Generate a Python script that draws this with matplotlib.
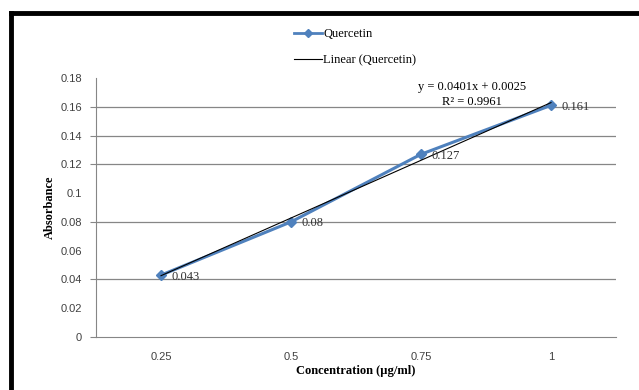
import matplotlib.pyplot as plt
from matplotlib.lines import Line2D
import numpy as np

categories = ["0.25", "0.5", "0.75", "1"]
absorbance = [0.043, 0.08, 0.127, 0.161]
value_labels = ["0.043", "0.08", "0.127", "0.161"]
slope, intercept = 0.0401, 0.0025
yticks = [0, 0.02, 0.04, 0.06, 0.08, 0.1, 0.12, 0.14, 0.16, 0.18]
ytick_labels = ["0", "0.02", "0.04", "0.06", "0.08", "0.1", "0.12", "0.14", "0.16", "0.18"]
grid_at = [0.04, 0.08, 0.12, 0.14, 0.16]

serif = "Liberation Serif"
sans = "Liberation Sans"
blue = "#4F81BD"

fig = plt.figure(figsize=(6.39, 3.9), dpi=100)
ax = fig.add_axes([96 / 639, 1 - 337 / 390, 520 / 639, 259 / 390])

x = np.arange(len(categories))
# trend line uses Excel's 1-based category index
trend = slope * (x + 1) + intercept
ax.plot(x, trend, color="black", lw=0.8, zorder=3)
ax.plot(x, absorbance, color=blue, lw=2.2, marker="D", ms=5.5, zorder=2)

for xi, yi, lab in zip(x, absorbance, value_labels):
    ax.annotate(lab, (xi, yi), xytext=(7.5, -1), textcoords="offset points",
                fontsize=9, family=serif, color="#333333", va="center")

ax.set_xlim(-0.5, len(categories) - 0.5)
ax.set_ylim(0, 0.18)
ax.set_xticks(x)
ax.set_xticklabels(categories, family=sans, fontsize=8, color="#404040")
ax.set_yticks(yticks)
ax.set_yticklabels(ytick_labels, family=sans, fontsize=8, color="#404040")
ax.tick_params(axis="x", length=0, pad=11)
ax.tick_params(axis="y", length=4, color="#868686", pad=6)
# only the gridded values (and 0) show a tick mark in the source
for val, tk in zip(yticks, ax.yaxis.get_major_ticks()):
    if val not in grid_at and val != 0:
        tk.tick1line.set_visible(False)

for g in grid_at:
    ax.axhline(g, color="#868686", lw=0.9, zorder=1)

for s in ["top", "right"]:
    ax.spines[s].set_visible(False)
ax.spines["left"].set_color("#868686")
ax.spines["bottom"].set_color("#868686")

ax.set_xlabel("Concentration (\u00b5g/ml)", family=serif, fontsize=9, fontweight="bold", labelpad=2)
ax.set_ylabel("Absorbance", family=serif, fontsize=9, fontweight="bold", labelpad=3)

ax.text(2.39, 0.1737, "y = 0.0401x + 0.0025", family=serif, fontsize=9, ha="center", va="center")
ax.text(2.39, 0.1633, "R\u00b2 = 0.9961", family=serif, fontsize=9, ha="center", va="center")

handles = [Line2D([], [], color=blue, lw=2, marker="D", ms=4.5),
           Line2D([], [], color="black", lw=0.8)]
fig.legend(handles, ["Quercetin", "Linear (Quercetin)"], loc="upper left",
           bbox_to_anchor=(283 / 639, 1 - 17 / 390), frameon=False,
           prop={"family": serif, "size": 9}, handlelength=2.2, handletextpad=0.1,
           labelspacing=1.15)

# black frame on top and left like the source
fig.add_artist(Line2D([11 / 639, 1], [1 - 13 / 390, 1 - 13 / 390], color="black", lw=3.5))
fig.add_artist(Line2D([11 / 639, 11 / 639], [0, 1 - 13 / 390], color="black", lw=3.5))

fig.savefig("out.png", dpi=100)
